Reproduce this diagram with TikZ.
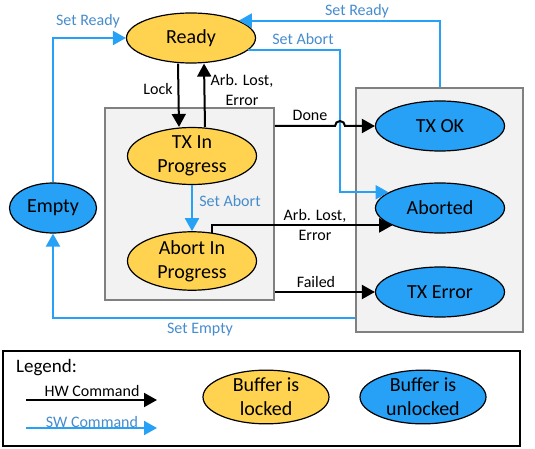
\documentclass[tikz,border=0pt]{standalone}
\usepackage{fontspec}
\setmainfont{Carlito}
\usetikzlibrary{arrows.meta,positioning,calc,shapes.geometric}
\definecolor{lockcolor}{RGB}{255,211,80}
\definecolor{freecolor}{RGB}{38,161,245}
\definecolor{swcolor}{RGB}{38,161,245}
\definecolor{swtext}{RGB}{70,140,205}
\definecolor{boxgray}{RGB}{242,242,242}
\definecolor{boxedge}{RGB}{128,128,128}

\begin{document}
\begin{tikzpicture}[x=1pt,y=-1pt,
    locked/.style={ellipse, draw=black, line width=1.2pt, fill=lockcolor, minimum width=129pt, minimum height=50pt, inner sep=0pt, align=center, font=\fontsize{20}{24}\selectfont},
    unlocked/.style={locked, fill=freecolor},
    grpbox/.style={draw=boxedge, line width=1.5pt, fill=boxgray, inner sep=0pt},
    hw/.style={draw=black, line width=2pt, -{Triangle[length=13pt,width=14pt]}},
    sw/.style={draw=swcolor, line width=2pt, -{Triangle[length=13pt,width=14pt]}},
    hwlabel/.style={align=center, inner sep=0pt, font=\fontsize{16}{19.5}\selectfont},
    swlabel/.style={hwlabel, text=swtext}]
        \useasboundingbox (0,0) rectangle (535,449);
        % group boxes
        \node[grpbox, minimum width=169pt, minimum height=192pt] (busy) at (189.5,204) {};
        \node[grpbox, minimum width=167pt, minimum height=244pt] (final) at (439.5,210) {};
        % states
        \node[locked] (ready) at (191,38) {Ready};
        \node[locked] (txprog) at (192,156) {TX In\\Progress};
        \node[locked] (abortprog) at (192,261) {Abort In\\Progress};
        \node[unlocked, minimum width=87pt] (empty) at (53,208) {Empty};
        \node[unlocked] (txok) at (440,126) {TX OK};
        \node[unlocked] (aborted) at (440,208) {Aborted};
        \node[unlocked] (txerr) at (440,292) {TX Error};
        % SW commands
        \coordinate (abortx) at (340,0);
        \draw[sw] (empty.north) |- (ready.west);
        \draw[sw] (final.north) |- (ready.20);
        \draw[sw] (ready.-12) -| (abortx |- aborted.163) -- (aborted.163);
        \draw[sw] (txprog) -- (abortprog);
        \draw[sw] ([yshift=15pt]final.south west) -| (empty.south);
        % HW commands
        \coordinate (hop) at (340,126);
        \draw[hw] ([xshift=-13pt]ready.south) -- ([xshift=-13pt]txprog.north);
        \draw[hw] ([xshift=13pt]txprog.north) -- ([xshift=13pt]ready.south);
        \draw[hw] (busy.east |- txok) -- ([xshift=-5pt]hop) arc[start angle=180, end angle=0, radius=5pt] -- (txok);
        \draw[hw] (abortprog.55) |- (aborted.-160);
        \draw[hw] (busy.east |- txerr) -- (txerr);
        % labels
        \node[hwlabel] (lbllock) at (158,89) {Lock};
        \node[hwlabel] (lblarbup) at (242,90) {Arb. Lost,\\Error};
        \node[hwlabel] (lbldone) at (310,115) {Done};
        \node[hwlabel] (lblarbout) at (315,225) {Arb. Lost,\\Error};
        \node[hwlabel] (lblfail) at (316,282) {Failed};
        \node[swlabel] (lblreadyl) at (88,21) {Set Ready};
        \node[swlabel] (lblreadyr) at (357,11) {Set Ready};
        \node[swlabel] (lblabortr) at (303,39) {Set Abort};
        \node[swlabel] (lblabortd) at (230,201) {Set Abort};
        \node[swlabel] (lblempty) at (200,330) {Set Empty};
        % legend
        \node[draw=black, line width=2pt, minimum width=517pt, minimum height=95pt, inner sep=0pt] (legend) at (261.5,398.5) {};
        \node[hwlabel, anchor=west, font=\fontsize{19}{23}\selectfont] (legendtitle) at (16,368) {Legend:};
        \coordinate (hwfrom) at (26,400);
        \coordinate (hwto) at (157,400);
        \coordinate (swfrom) at (26,428);
        \coordinate (swto) at (157,428);
        \draw[hw] (hwfrom) -- (hwto);
        \draw[sw] (swfrom) -- (swto);
        \node[hwlabel] (lblhw) at (92,391) {HW Command};
        \node[swlabel] (lblsw) at (92,422) {SW Command};
        \node[locked, minimum width=126pt, minimum height=51pt] (keylocked) at (266,397) {Buffer is\\locked};
        \node[unlocked, minimum width=126pt, minimum height=51pt] (keyfree) at (423,397) {Buffer is\\unlocked};
\end{tikzpicture}
\end{document}
